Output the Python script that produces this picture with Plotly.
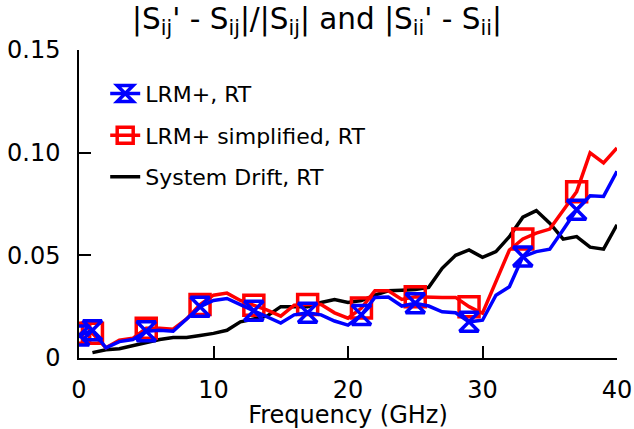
import plotly.graph_objects as go

freq_meas = [0.05] + list(range(1, 41))
lrm_plus = [0.011, 0.0135, 0.005, 0.008, 0.009, 0.013, 0.0135, 0.013, 0.019, 0.025,
            0.028, 0.029, 0.026, 0.023, 0.020, 0.017, 0.021, 0.022, 0.021, 0.018,
            0.016, 0.021, 0.0295, 0.0297, 0.0253, 0.0267, 0.0253, 0.0225, 0.022, 0.0176,
            0.0184, 0.0306, 0.0347, 0.0494, 0.0518, 0.053, 0.0624, 0.0722, 0.079, 0.0787,
            0.0909]
lrm_simpl = [0.012, 0.012, 0.005, 0.0087, 0.0096, 0.0145, 0.0145, 0.014, 0.019, 0.026,
             0.0306, 0.0316, 0.028, 0.0257, 0.0233, 0.0204, 0.0257, 0.026, 0.026, 0.022,
             0.0194, 0.0243, 0.0327, 0.0327, 0.0285, 0.0298, 0.0295, 0.0295, 0.0295, 0.025,
             0.0218, 0.037, 0.0526, 0.058, 0.0608, 0.0628, 0.072, 0.081, 0.0999, 0.095,
             0.1023]
freq_drift = list(range(1, 41))
drift = [0.0026, 0.004, 0.0045, 0.006, 0.0078, 0.009, 0.010, 0.010, 0.011, 0.012,
         0.0135, 0.0176, 0.019, 0.0205, 0.025, 0.025, 0.025, 0.027, 0.0285, 0.027,
         0.028, 0.0306, 0.0327, 0.033, 0.0334, 0.0344, 0.0437, 0.050, 0.0526, 0.049,
         0.0518, 0.0591, 0.0686, 0.0718, 0.0657, 0.0579, 0.0591, 0.054, 0.053, 0.0649]

marker_idx = [0] + list(range(1, len(freq_meas), 4))

x_ticks = [0, 10, 20, 30, 40]
y_ticks = [0, 0.05, 0.10, 0.15]
y_ticktext = ["0", "0.05", "0.10", "0.15"]

names = ["LRM+, RT", "LRM+ simplified, RT", "System Drift, RT"]
FONT = "DejaVu Sans, Verdana, sans-serif"
BLUE = "#0000ff"
RED = "#ff0000"

fig = go.Figure()

# data lines
fig.add_trace(go.Scatter(x=freq_drift, y=drift, mode="lines",
                         line=dict(color="black", width=3.5), showlegend=False))
fig.add_trace(go.Scatter(x=freq_meas, y=lrm_simpl, mode="lines",
                         line=dict(color=RED, width=3.5), showlegend=False))
fig.add_trace(go.Scatter(x=[freq_meas[i] for i in marker_idx], y=[lrm_simpl[i] for i in marker_idx],
                         mode="markers", showlegend=False,
                         marker=dict(symbol="square-open", size=20, color=RED, line=dict(width=3.5, color=RED))))
fig.add_trace(go.Scatter(x=freq_meas, y=lrm_plus, mode="lines",
                         line=dict(color=BLUE, width=3.5), showlegend=False))
fig.add_trace(go.Scatter(x=[freq_meas[i] for i in marker_idx], y=[lrm_plus[i] for i in marker_idx],
                         mode="markers", showlegend=False,
                         marker=dict(symbol="hourglass-open", size=19, color=BLUE, line=dict(width=3.5, color=BLUE))))

# legend entries
fig.add_trace(go.Scatter(x=[None], y=[None], mode="lines+markers", name=names[0], legendgroup="a",
                         line=dict(color=BLUE, width=3.5),
                         marker=dict(symbol="hourglass-open", size=19, color=BLUE, line=dict(width=3.5, color=BLUE))))
fig.add_trace(go.Scatter(x=[None], y=[None], mode="lines+markers", name=names[1], legendgroup="b",
                         line=dict(color=RED, width=3.5),
                         marker=dict(symbol="square-open", size=20, color=RED, line=dict(width=3.5, color=RED))))
fig.add_trace(go.Scatter(x=[None], y=[None], mode="lines", name=names[2], legendgroup="c",
                         line=dict(color="black", width=3.5)))

fig.update_layout(
    width=634, height=429,
    margin=dict(l=79, r=17, t=50, b=71, autoexpand=False),
    paper_bgcolor="white", plot_bgcolor="white",
    font=dict(family=FONT, size=22, color="black"),
    title=dict(text="|S<sub>ij</sub>' - S<sub>ij</sub>|/|S<sub>ij</sub>| and |S<sub>ii</sub>' - S<sub>ii</sub>|",
               x=0.5, xanchor="center", y=0.957, yanchor="middle", font=dict(size=29.5)),
    legend=dict(x=0.0487, y=0.926, xanchor="left", yanchor="top", bgcolor="rgba(0,0,0,0)",
                font=dict(size=22), tracegroupgap=10, traceorder="grouped"),
    xaxis=dict(range=[0, 40], tickvals=x_ticks, ticks="inside", ticklen=12, tickwidth=1.5,
               tickcolor="black", showline=True, linecolor="black", linewidth=1.5,
               showgrid=False, zeroline=False, tickfont=dict(size=24), automargin=False,
               ticklabelstandoff=9,
               title=dict(text="Frequency (GHz)", font=dict(size=24), standoff=0)),
    yaxis=dict(range=[0, 0.15], tickvals=y_ticks, ticktext=y_ticktext, ticks="inside",
               ticklen=12, tickwidth=1.5, tickcolor="black", showline=True, linecolor="black",
               linewidth=1.5, showgrid=False, zeroline=False, tickfont=dict(size=24),
               ticklabelstandoff=12, automargin=False),
)

fig.write_html("out.html", config={"displayModeBar": False},
               post_script="document.body.style.margin='0';")
